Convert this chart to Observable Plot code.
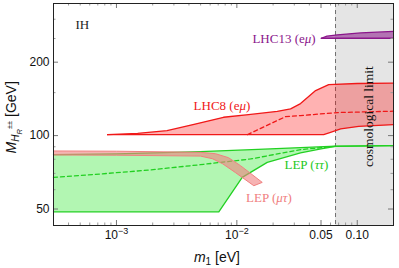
<!DOCTYPE html>
<html><head><meta charset="utf-8">
<script src="https://cdn.jsdelivr.net/npm/d3@7"></script>
<script src="https://cdn.jsdelivr.net/npm/@observablehq/plot@0.6"></script>
<style>body{margin:0;background:#fff} svg{display:block}</style>
</head><body><div id="chart"></div>
<script>
// axes
const xTicks = [1e-3, 1e-2, 0.05, 0.1];
const xTickLabels = ["10⁻³", "10⁻²", "0.05", "0.10"];
const xMinorTicks = [4e-4,5e-4,6e-4,7e-4,8e-4,9e-4,2e-3,3e-3,4e-3,5e-3,6e-3,7e-3,8e-3,9e-3,2e-2,3e-2,4e-2,6e-2,7e-2,8e-2,9e-2];
const yTicks = [50, 100, 200];
const yTickLabels = ["50", "100", "200"];
const yMinorTicks = [60, 70, 80, 90, 150, 250, 300];
const xDomain = [3e-4, 0.2];
const yDomain = [42.8, 348];
const cosmoLimit = 0.066;
// axis titles: value at the start of each title
const xTitleStart = 4.4e-3;
const yTitleStart = 84.5;

// LHC8 (eμ)
const lhc8UpperM1 = [8.44e-4, 1.5e-3, 2.63e-3, 4.5e-3, 7.74e-3, 0.0125, 0.02166, 0.02795, 0.0338, 0.0451, 0.0579, 0.1, 0.2];
const lhc8UpperM  = [100.9, 102.2, 104.8, 111.5, 118.9, 121.8, 125.8, 128.7, 135.3, 153, 161.9, 163.5, 164];
const lhc8LowerM1 = [8.44e-4, 0.0526, 0.06, 0.0728, 0.1028, 0.2];
const lhc8LowerM  = [100.9, 100.9, 103.1, 106.5, 109.1, 110.9];
const lhc8DashM1  = [0.01227, 0.0254, 0.0338, 0.0684, 0.2];
const lhc8DashM   = [100.9, 119.6, 120.8, 124.3, 125.9];

// LHC13 (eμ)
const lhc13UpperM1 = [0.0503, 0.056, 0.0684, 0.1068, 0.2];
const lhc13UpperM  = [250.7, 255.6, 258.9, 263.5, 267.3];
const lhc13LowerM1 = [0.0503, 0.2];
const lhc13LowerM  = [250.7, 250.7];

// LEP (ττ)
const lepTTUpperM1 = [3e-4, 1e-3, 4.98e-3, 0.015, 0.0338, 0.066, 0.2];
const lepTTUpperM  = [83.5, 84.2, 85.9, 87.8, 89.3, 90.5, 91];
const lepTTLowerM1 = [3e-4, 7.08e-3, 0.01108, 0.01788, 0.0338, 0.05, 0.066, 0.2];
const lepTTLowerM  = [48.7, 48.7, 67.4, 77.7, 85.0, 88.3, 90.3, 91];
const lepTTDashM1  = [3e-4, 7.34e-4, 1.91e-3, 4.98e-3, 0.013, 0.0338, 0.066];
const lepTTDashM   = [67.4, 69.6, 72.3, 76.0, 80.2, 87.6, 90.4];

// LEP (μτ)
const lepMTUpperM1 = [3e-4, 1e-3, 4.98e-3, 6.64e-3, 8.52e-3, 0.01072, 0.01625];
const lepMTUpperM  = [86.5, 86.3, 85.4, 84.3, 81.2, 75.3, 64.3];
const lepMTLowerM1 = [3e-4, 1e-3, 4.98e-3, 6.27e-3, 7.6e-3, 9.75e-3, 0.01383];
const lepMTLowerM  = [83.3, 83.1, 82.4, 80.4, 76.7, 70.5, 62.3];

// labels (centered)
const labelText = ["IH", "LHC8 (eμ)", "LEP (ττ)", "LEP (μτ)"];
const labelM1 = [5.2e-4, 7.52e-3, 0.0378, 0.01845];
const labelM  = [285.5, 132.7, 75.8, 55.8];
const labelColor = ["#222", "#f01818", "#22c822", "#f08080"];
// label right-aligned
const lhc13Label = "LHC13 (eμ)";
const lhc13LabelM1 = 0.0451;
const lhc13LabelM = 250.2;

const pts = (xs, ys) => xs.map((x, i) => ({x, y: ys[i]}));
const poly = (ux, uy, lx, ly) => {
  const u = pts(ux, uy), l = pts(lx, ly).reverse();
  return [...u, ...l, u[0]];
};
const labels = labelText.map((t, i) => ({t, x: labelM1[i], y: labelM[i], c: labelColor[i]}));

const H = 268 - 3 - 43, W = 399 - 53 - 6;
const red = "#f01818", green = "#22d022", purple = "#8b168b", pink = "#f08080";
const serif = "'Liberation Serif', 'Times New Roman', serif";

const svg = Plot.plot({
  width: 399, height: 268,
  marginLeft: 53, marginRight: 6, marginTop: 3, marginBottom: 43,
  x: {type: "log", domain: xDomain, axis: null},
  y: {type: "log", domain: yDomain, axis: null},
  style: {fontFamily: "'Liberation Sans', Arial, sans-serif", fontSize: "12px", background: "white", color: "#111"},
  marks: [
    Plot.rect([{x1: cosmoLimit, x2: xDomain[1]}], {x1: "x1", x2: "x2", fill: "#e5e5e5"}),
    Plot.ruleX([cosmoLimit], {stroke: "#707070", strokeDasharray: "4,3", strokeWidth: 1}),
    // LEP ττ
    Plot.line(poly(lepTTUpperM1, lepTTUpperM, lepTTLowerM1, lepTTLowerM), {x: "x", y: "y", fill: "#00e000", fillOpacity: 0.3, stroke: "none"}),
    Plot.line(pts(lepTTDashM1, lepTTDashM), {x: "x", y: "y", stroke: green, strokeWidth: 1.3, strokeDasharray: "4,3"}),
    Plot.line(pts(lepTTUpperM1, lepTTUpperM), {x: "x", y: "y", stroke: green, strokeWidth: 1.3}),
    Plot.line(pts(lepTTLowerM1, lepTTLowerM), {x: "x", y: "y", stroke: green, strokeWidth: 1.3}),
    // LEP μτ
    Plot.line(poly(lepMTUpperM1, lepMTUpperM, lepMTLowerM1, lepMTLowerM), {x: "x", y: "y", fill: pink, fillOpacity: 0.6, stroke: pink, strokeWidth: 1}),
    // LHC8
    Plot.line(poly(lhc8UpperM1, lhc8UpperM, lhc8LowerM1, lhc8LowerM), {x: "x", y: "y", fill: "#ff0000", fillOpacity: 0.3, stroke: "none"}),
    Plot.line(pts(lhc8UpperM1, lhc8UpperM), {x: "x", y: "y", stroke: red, strokeWidth: 1.3}),
    Plot.line(pts(lhc8LowerM1, lhc8LowerM), {x: "x", y: "y", stroke: red, strokeWidth: 1.3}),
    Plot.line(pts(lhc8DashM1, lhc8DashM), {x: "x", y: "y", stroke: red, strokeWidth: 1.3, strokeDasharray: "4,3"}),
    // LHC13
    Plot.line(poly(lhc13UpperM1, lhc13UpperM, lhc13LowerM1, lhc13LowerM), {x: "x", y: "y", fill: purple, fillOpacity: 0.55, stroke: "none"}),
    Plot.line(pts(lhc13UpperM1, lhc13UpperM), {x: "x", y: "y", stroke: purple, strokeWidth: 1.3}),
    Plot.line(pts(lhc13LowerM1, lhc13LowerM), {x: "x", y: "y", stroke: purple, strokeWidth: 1.3}),
    // text
    Plot.text(labels, {x: "x", y: "y", text: "t", fill: "c", textAnchor: "middle", fontFamily: serif, fontSize: 13}),
    Plot.text([lhc13Label], {x: lhc13LabelM1, y: lhc13LabelM, text: d => d, textAnchor: "end", fill: purple, fontFamily: serif, fontSize: 13}),
    Plot.text(["cosmological limit"], {x: 0.1245, y: 119.6, text: d => d, rotate: -90, textAnchor: "middle", fontFamily: serif, fontSize: 13.5, fill: "#111"}),
    // inner ticks
    Plot.ruleX(xTicks, {x: d => d, insetTop: H - 5, stroke: "#777"}),
    Plot.ruleX(xTicks, {x: d => d, insetBottom: H - 5, stroke: "#777"}),
    Plot.ruleX(xMinorTicks, {x: d => d, insetTop: H - 2.5, stroke: "#999"}),
    Plot.ruleX(xMinorTicks, {x: d => d, insetBottom: H - 2.5, stroke: "#999"}),
    Plot.ruleY(yTicks, {y: d => d, insetRight: W - 5, stroke: "#777"}),
    Plot.ruleY(yTicks, {y: d => d, insetLeft: W - 5, stroke: "#777"}),
    Plot.ruleY(yMinorTicks, {y: d => d, insetRight: W - 2.5, stroke: "#999"}),
    Plot.ruleY(yMinorTicks, {y: d => d, insetLeft: W - 2.5, stroke: "#999"}),
    // tick labels
    Plot.text(xTicks, {x: d => d, frameAnchor: "bottom", lineAnchor: "top", textAnchor: "middle", dy: 5, text: (d, i) => xTickLabels[i], fontSize: 12, fill: "#111"}),
    Plot.text(yTicks, {y: d => d, frameAnchor: "left", textAnchor: "end", dx: -4, text: (d, i) => yTickLabels[i], fontSize: 12, fill: "#111"}),
    // axis titles (start-anchored)
    Plot.text(["YLABEL"], {y: () => yTitleStart, frameAnchor: "left", textAnchor: "start", lineAnchor: "middle", dx: -42, rotate: -90, text: d => d, fontSize: 14, fill: "#111"}),
    Plot.text(["XLABEL"], {x: () => xTitleStart, frameAnchor: "bottom", textAnchor: "start", lineAnchor: "middle", dy: 32, text: d => d, fontSize: 14, fill: "#111"}),
    Plot.frame({stroke: "#222", strokeWidth: 1})
  ]
});
document.getElementById("chart").appendChild(svg);

// rich text: axis labels, superscripts, italic greek letters
const supMap = {"⁻": "−", "⁰": "0", "¹": "1", "²": "2", "³": "3", "⁴": "4", "⁵": "5", "⁶": "6", "⁷": "7", "⁸": "8", "⁹": "9"};
d3.select(svg).selectAll("text").each(function() {
  const el = d3.select(this);
  const t = this.textContent;
  if (this.childElementCount !== 0) return;
  if (t === "YLABEL") {
    el.text("").attr("text-anchor", "start");
    el.append("tspan").attr("font-style", "italic").text("M");
    el.append("tspan").attr("font-style", "italic").attr("font-size", 10).attr("baseline-shift", -3).text("H");
    el.append("tspan").attr("font-style", "italic").attr("font-size", 7.5).attr("baseline-shift", -6).text("R");
    el.append("tspan").attr("font-size", 7.5).attr("baseline-shift", 4).text("±±");
    el.append("tspan").text(" [GeV]");
  } else if (t === "XLABEL") {
    el.text("").attr("text-anchor", "start");
    el.append("tspan").attr("font-style", "italic").text("m");
    el.append("tspan").attr("font-size", 10).attr("baseline-shift", -3).text("1");
    el.append("tspan").text(" [eV]");
  } else if (/[⁻⁰¹²³⁴⁵⁶⁷⁸⁹]/.test(t)) {
    const m = t.match(/^([^⁻⁰¹²³⁴⁵⁶⁷⁸⁹]*)([⁻⁰¹²³⁴⁵⁶⁷⁸⁹]+)$/);
    if (!m) return;
    el.text("");
    el.append("tspan").text(m[1]);
    el.append("tspan").attr("font-size", 9).attr("baseline-shift", 5).text([...m[2]].map(c => supMap[c]).join(""));
  } else if (/[μτ]/.test(t)) {
    el.text("");
    for (const part of t.split(/([μτ]+)/)) {
      if (!part) continue;
      const s = el.append("tspan").text(part);
      if (/[μτ]/.test(part)) s.attr("font-style", "italic");
    }
  }
});
</script>
</body></html>
